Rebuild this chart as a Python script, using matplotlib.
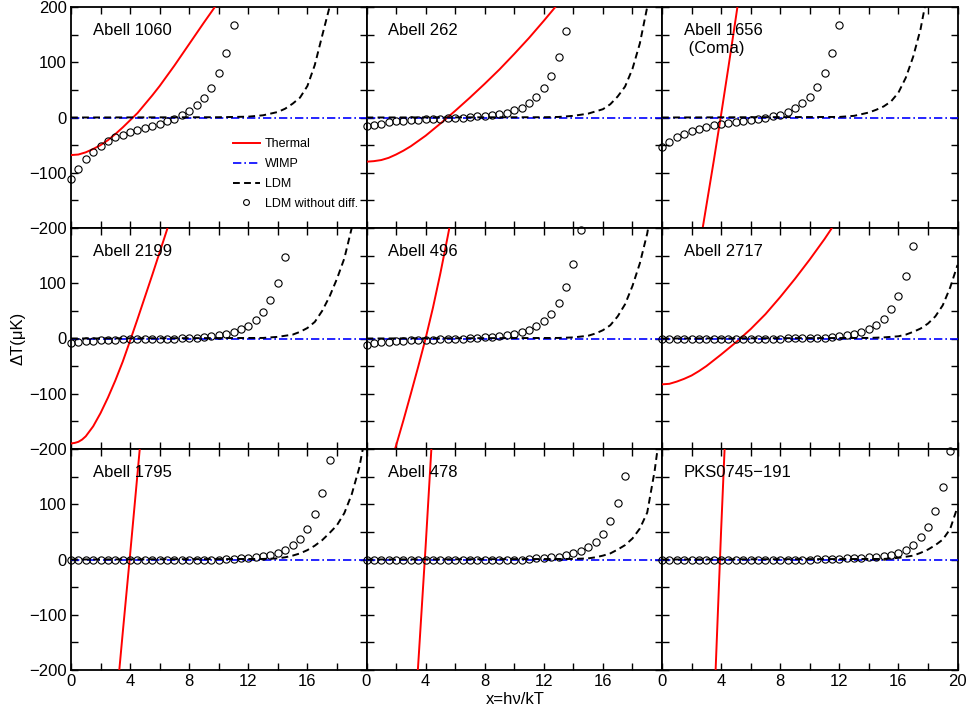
import matplotlib
matplotlib.use("Agg")
import matplotlib.pyplot as plt
from matplotlib.lines import Line2D

plt.rcParams['font.family'] = ['Liberation Sans', 'DejaVu Sans']
plt.rcParams['font.size'] = 12

# ---------------- data ----------------
NAMES = ["Abell 1060", "Abell 262", "Abell 1656", "Abell 2199", "Abell 496",
         "Abell 2717", "Abell 1795", "Abell 478", "PKS0745\u2212191"]

CIRCLE_X = [0.0, 0.5, 1.0, 1.5, 2.0, 2.5, 3.0, 3.5, 4.0, 4.5, 5.0, 5.5, 6.0, 6.5,
            7.0, 7.5, 8.0, 8.5, 9.0, 9.5, 10.0, 10.5, 11.0, 11.5, 12.0, 12.5,
            13.0, 13.5, 14.0, 14.5, 15.0, 15.5, 16.0, 16.5, 17.0, 17.5, 18.0,
            18.5, 19.0, 19.5, 20.0]

# Thermal SZ (red)
TH_X_A1060 = [0, 0.5, 1, 1.5, 2, 2.5, 3, 3.5, 4, 4.5, 5, 5.5, 6, 7, 8, 9, 10, 10.5]
TH_Y_A1060 = [-68, -67, -63, -57, -50, -41, -30, -18, -5, 8, 24, 40, 57, 94, 133, 172, 210, 230]
TH_X_A262 = [0, 0.5, 1, 1.5, 2, 2.5, 3, 4, 5, 6, 7, 8, 9, 10, 11, 12, 13, 13.5]
TH_Y_A262 = [-80, -79, -77, -73, -67, -60, -52, -33, -11, 12, 36, 61, 87, 115, 144, 175, 207, 223]
TH_X_A1656 = [2.5, 3, 3.5, 4, 4.5, 5, 5.5]
TH_Y_A1656 = [-241, -160, -79, 5, 92, 181, 272]
TH_X_A2199 = [0, 0.25, 0.5, 0.75, 1, 1.5, 2, 2.5, 3, 3.5, 4, 4.5, 5, 5.5, 6, 6.5, 7]
TH_Y_A2199 = [-190, -189, -187, -183, -177, -159, -135, -107, -76, -42, -4, 35, 75, 115, 156, 197, 240]
TH_X_A496 = [1.5, 2, 2.5, 3, 3.5, 4, 4.5, 5, 5.5, 6]
TH_Y_A496 = [-236, -194, -148, -100, -51, 0, 56, 118, 185, 255]
TH_X_A2717 = [0, 0.5, 1, 1.5, 2, 2.5, 3, 4, 5, 6, 7, 8, 9, 10, 11, 12]
TH_Y_A2717 = [-83, -82, -78, -73, -67, -59, -50, -29, -7, 17, 44, 75, 108, 143, 180, 220]
TH_X_A1795 = [3, 3.5, 4, 4.5, 5]
TH_Y_A1795 = [-278, -133, 9, 155, 302]
TH_X_A478 = [3, 3.5, 4, 4.5]
TH_Y_A478 = [-405, -190, 23, 250]
TH_X_PKS = [3.5, 4, 4.5]
TH_Y_PKS = [-287, 52, 365]

# WIMP (blue dash-dot)
WIMP_X = [0, 20]
WIMP_Y = [0, 0]

# LDM (black dashed)
LDM_X_A1060 = [0, 10, 11, 12, 13, 14, 14.5, 15, 15.5, 16, 16.5, 17, 17.5, 18]
LDM_Y_A1060 = [0, 0.5, 1, 1.5, 4, 10, 16, 25, 36, 57, 95, 148, 200, 280]
LDM_X_A262 = [0, 12, 13, 14, 15, 16, 16.5, 17, 17.5, 18, 18.5, 19, 19.5]
LDM_Y_A262 = [0, 0.5, 1, 3, 7, 15, 24, 38, 56, 88, 134, 200, 290]
LDM_X_A1656 = [0, 12, 13, 14, 14.5, 15, 15.5, 16, 16.5, 17, 17.5, 18]
LDM_Y_A1656 = [0, 1, 3, 9, 14, 20, 29, 45, 72, 110, 160, 230]
LDM_X_A2199 = [0, 13, 14, 15, 15.5, 16, 16.5, 17, 17.5, 18, 18.5, 19, 19.5]
LDM_Y_A2199 = [0, 1, 3, 7, 12, 19, 30, 50, 76, 108, 145, 200, 280]
LDM_X_A496 = [0, 13, 14, 15, 15.5, 16, 16.5, 17, 17.5, 18, 18.5, 19, 19.5]
LDM_Y_A496 = [0, 1, 2, 5, 9, 15, 24, 40, 62, 95, 136, 190, 270]
LDM_X_A2717 = [0, 14, 15, 16, 16.5, 17, 17.5, 18, 18.5, 19, 19.5, 20]
LDM_Y_A2717 = [0, 1, 2, 4, 7, 12, 18, 27, 40, 60, 92, 133]
LDM_X_A1795 = [0, 13, 14, 14.5, 15, 15.5, 16, 16.5, 17, 17.5, 18, 18.5, 19, 19.5, 20]
LDM_Y_A1795 = [0, 1, 2, 4, 7, 11, 17, 25, 35, 48, 62, 84, 118, 165, 235]
LDM_X_A478 = [0, 14, 15, 15.5, 16, 16.5, 17, 17.5, 18, 18.5, 19, 19.5, 20]
LDM_Y_A478 = [0, 1, 2, 4, 7, 11, 18, 26, 38, 56, 85, 160, 260]
LDM_X_PKS = [0, 15, 16, 16.5, 17, 17.5, 18, 18.5, 19, 19.5, 20]
LDM_Y_PKS = [0, 1, 3, 5, 7, 12, 18, 26, 36, 55, 95]

# LDM without diffusion (open circles), at CIRCLE_X[0], CIRCLE_X[1], ...
CIR_A1060 = [-112, -93, -76, -62, -51, -43, -36, -31, -27, -23, -19, -16, -11, -7,
             -3, 4, 11, 22, 35, 54, 80, 116, 168]
CIR_A262 = [-16, -14, -11, -9, -7, -6, -5, -4, -3, -2, -2, -1, -1, 0, 1, 2, 2, 4, 7,
            9, 13, 18, 26, 37, 53, 76, 109, 156]
CIR_A1656 = [-54, -45, -36, -30, -25, -20, -17, -14, -12, -10, -8, -7, -5, -3, -1,
             2, 5, 10, 17, 26, 38, 56, 81, 117, 167]
CIR_A2199 = [-7.5, -6, -5, -4, -3, -3, -2, -1.5, -1.5, -1, -1, 0, 0, 0, 0, 1, 1,
             1.5, 3, 4, 6, 8, 12, 17, 23, 33, 48, 70, 101, 147]
CIR_A496 = [-11, -9, -7, -6, -5, -4, -3, -3, -2, -2, -1, 0, 0, 0, 1, 1.5, 2, 3,
            4.5, 6, 8, 11, 15, 22, 32, 45, 65, 94, 135, 196]
CIR_A2717 = [-1, -1, -0.5, -0.5, -0.5, -0.5, -0.5, 0, 0, 0, 0, 0, 0, 0, 0, 0, 0,
             0.5, 0.5, 0.5, 1, 1.5, 1.5, 3, 4.5, 6, 8, 11, 17, 24, 36, 53, 77, 114, 167]
CIR_A1795 = [0, 0, 0, 0, 0, 0, 0, 0, 0, 0, 0, 0, 0, 0, 0, 0, 0, 0, 0, 0, 0,
             0.5, 1, 2, 3, 4, 6, 9, 12, 18, 26, 38, 56, 82, 121, 180]
CIR_A478 = [0, 0, 0, 0, 0, 0, 0, 0, 0, 0, 0, 0, 0, 0, 0, 0, 0, 0, 0, 0, 0, 0,
            1, 2, 3, 4, 5, 8, 11, 15, 22, 32, 47, 69, 102, 151]
CIR_PKS = [0, 0, 0, 0, 0, 0, 0, 0, 0, 0, 0, 0, 0, 0, 0, 0, 0, 0, 0, 0, 0,
           0.5, 1, 1, 1.5, 2, 2, 3, 4, 5, 6, 9, 12, 18, 26, 40, 58, 88, 131, 196]

THERMAL = [(TH_X_A1060, TH_Y_A1060), (TH_X_A262, TH_Y_A262), (TH_X_A1656, TH_Y_A1656),
           (TH_X_A2199, TH_Y_A2199), (TH_X_A496, TH_Y_A496), (TH_X_A2717, TH_Y_A2717),
           (TH_X_A1795, TH_Y_A1795), (TH_X_A478, TH_Y_A478), (TH_X_PKS, TH_Y_PKS)]
LDM = [(LDM_X_A1060, LDM_Y_A1060), (LDM_X_A262, LDM_Y_A262), (LDM_X_A1656, LDM_Y_A1656),
       (LDM_X_A2199, LDM_Y_A2199), (LDM_X_A496, LDM_Y_A496), (LDM_X_A2717, LDM_Y_A2717),
       (LDM_X_A1795, LDM_Y_A1795), (LDM_X_A478, LDM_Y_A478), (LDM_X_PKS, LDM_Y_PKS)]
CIRCLES = [CIR_A1060, CIR_A262, CIR_A1656, CIR_A2199, CIR_A496, CIR_A2717,
           CIR_A1795, CIR_A478, CIR_PKS]

XTICKS = [0, 2, 4, 6, 8, 10, 12, 14, 16, 18, 20]
YTICKS = [-200, -150, -100, -50, 0, 50, 100, 150, 200]

WIMP_LS = (0, (5, 1.8, 1, 1.8))
LDM_LS = (0, (3.5, 2.2))

# ---------------- figure ----------------
fig = plt.figure(figsize=(9.69, 7.08), dpi=100)
gs = fig.add_gridspec(3, 3, left=71/969, right=957.5/969, top=1-7/708,
                      bottom=1-670/708, wspace=0, hspace=0)

for i in range(9):
    r, c = divmod(i, 3)
    ax = fig.add_subplot(gs[r, c])
    tx, ty = THERMAL[i]
    lx, ly = LDM[i]
    ax.plot(tx, ty, color='red', lw=1.4, zorder=3)
    ax.plot(WIMP_X, WIMP_Y, color='blue', lw=1.2, ls=WIMP_LS, zorder=4)
    ax.plot(lx, ly, color='black', lw=1.4, ls=LDM_LS, zorder=5)
    cy = CIRCLES[i]
    ax.plot(CIRCLE_X[:len(cy)], cy, ls='none', marker='o', ms=5.2, mfc='none',
            mec='black', mew=0.8, clip_on=False, zorder=6)

    ax.set_xlim(0, 20)
    ax.set_ylim(-200, 200)
    ax.set_xticks(XTICKS)
    ax.set_yticks(YTICKS)
    ax.tick_params(direction='in', top=True, right=True, length=5, width=1,
                   labelsize=12, pad=3)
    for s in ax.spines.values():
        s.set_linewidth(1.3)

    if r == 2:
        xl = ['0', '', '4', '', '8', '', '12', '', '16', '', '20' if c == 2 else '']
        ax.set_xticklabels(xl)
    else:
        ax.set_xticklabels([''] * len(XTICKS))
    if c == 0:
        yl = ['\u2212200', '', '\u2212100', '', '0', '', '100', '', '200' if r == 0 else '']
        ax.set_yticklabels(yl)
    else:
        ax.set_yticklabels([''] * len(YTICKS))

    ax.text(0.074, 0.872, NAMES[i], transform=ax.transAxes, fontsize=12,
            ha='left', va='baseline', zorder=10)
    if i == 2:
        ax.text(0.074, 0.79, ' (Coma)', transform=ax.transAxes, fontsize=12,
                ha='left', va='baseline', zorder=10)

    if i == 0:
        handles = [Line2D([], [], color='red', lw=1.4),
                   Line2D([], [], color='blue', lw=1.2, ls=WIMP_LS),
                   Line2D([], [], color='black', lw=1.4, ls=LDM_LS),
                   Line2D([], [], ls='none', marker='o', ms=4.2, mfc='none',
                          mec='black', mew=0.8)]
        ax.legend(handles, ['Thermal', 'WIMP', 'LDM', 'LDM without diff.'],
                  loc='upper left', bbox_to_anchor=(0.547, 0.405), frameon=False,
                  fontsize=9, handlelength=2.2, handletextpad=0.4,
                  labelspacing=0.62, borderpad=0, borderaxespad=0)

fig.text(18/969, 1-338/708, '\u0394T(\u03bcK)', rotation=90, ha='center',
         va='center', fontsize=12)
fig.text(515/969, 1-699/708, 'x=h\u03bd/kT', ha='center', va='center', fontsize=12)

fig.savefig('out.png', dpi=100)
